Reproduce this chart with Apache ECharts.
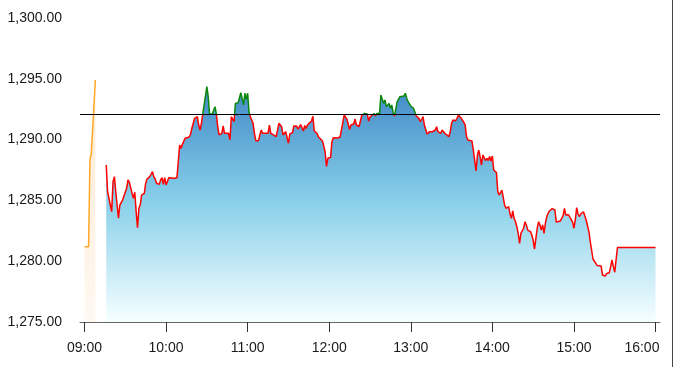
<!DOCTYPE html>
<html>
<head>
<meta charset="utf-8">
<script src="https://cdn.jsdelivr.net/npm/echarts@6/dist/echarts.min.js"></script>
<style>html,body{margin:0;padding:0;background:#fff}#c{width:673px;height:367px}</style>
</head>
<body>
<div id="c"></div>
<script>
// ---- data ----
const preTimes = ["09:00","09:03","09:04","09:05","09:08"];
const preValues = [1281.19,1281.19,1288.32,1288.87,1294.90];

const times = [
"09:16","09:17","09:19","09:20","09:21","09:22","09:23","09:24","09:25","09:26","09:28","09:29","09:31","09:32","09:33","09:35","09:36","09:37","09:38","09:39","09:40","09:41","09:42","09:44","09:45","09:46","09:48","09:49","09:50","09:51","09:52","09:53","09:55","09:56","09:57","09:58","09:59",
"10:00","10:01","10:02","10:03","10:06","10:08","10:09","10:10","10:11","10:12","10:14","10:15","10:17","10:18","10:19","10:20","10:21","10:23","10:24","10:25","10:26","10:27","10:28","10:30","10:31","10:32","10:34","10:35","10:36","10:37","10:38","10:39","10:41","10:42","10:43","10:44","10:46","10:47","10:48","10:49","10:50","10:51","10:53","10:55","10:56","10:57","10:58","10:59",
"11:00","11:01","11:02","11:04","11:05","11:06","11:08","11:09","11:10","11:11","11:13","11:14","11:15","11:16","11:17","11:19","11:20","11:21","11:23","11:24","11:25","11:26","11:28","11:29","11:30","11:31","11:33","11:34","11:35","11:36","11:37","11:39","11:40","11:41","11:42","11:43","11:44","11:45","11:47","11:48","11:49","11:50","11:51","11:52","11:53","11:55","11:56","11:57","11:58","11:59",
"12:01","12:02","12:03","12:04","12:06","12:07","12:08","12:09","12:11","12:12","12:13","12:15","12:16","12:17","12:18","12:19","12:20","12:22","12:23","12:24","12:25","12:26","12:28","12:29","12:30","12:31","12:33","12:34","12:35","12:36","12:37","12:38","12:39","12:40","12:41","12:42","12:44","12:45","12:46","12:47","12:48","12:50","12:51","12:52","12:53","12:55","12:56","12:57","12:58","12:59",
"13:00","13:02","13:03","13:04","13:06","13:07","13:08","13:09","13:10","13:12","13:13","13:14","13:16","13:18","13:19","13:20","13:22","13:23","13:24","13:25","13:26","13:28","13:29","13:30","13:31","13:33","13:34","13:35","13:36","13:37","13:39","13:40","13:41","13:42","13:43","13:45","13:46","13:47","13:48","13:49","13:50","13:51","13:52","13:53","13:54","13:55","13:56","13:57","13:58","13:59",
"14:00","14:01","14:02","14:03","14:04","14:05","14:06","14:07","14:08","14:09","14:10","14:11","14:12","14:13","14:14","14:15","14:16","14:17","14:18","14:19","14:20","14:21","14:22","14:23","14:24","14:25","14:26","14:28","14:29","14:30","14:31","14:32","14:33","14:34","14:35","14:36","14:37","14:38","14:39","14:40","14:41","14:42","14:44","14:45","14:46","14:47","14:48","14:50","14:52","14:53","14:54","14:56","14:57","14:59",
"15:00","15:01","15:02","15:03","15:04","15:05","15:07","15:08","15:09","15:11","15:12","15:13","15:14","15:15","15:17","15:18","15:20","15:21","15:23","15:24","15:25","15:26","15:27","15:28","15:29","15:30","15:32","16:00"
];
const values = [
1287.91,1285.71,1284.62,1284.07,1286.54,1286.95,1285.71,1285.58,1283.53,1284.62,1285.03,1284.89,1285.99,1286.68,1286.49,1285.58,1285.17,1285.67,1284.07,1282.75,1284.35,1284.62,1285.44,1285.58,1286.41,1286.76,1286.95,1287.15,1287.36,1286.95,1286.76,1286.41,1286.32,1286.68,1286.87,1286.32,1286.87,
1286.27,1286.32,1286.87,1286.87,1286.82,1286.87,1286.95,1289.56,1289.28,1289.61,1290.11,1290.24,1290.21,1290.44,1290.93,1290.79,1291.75,1291.88,1291.20,1290.79,1291.34,1292.10,1292.85,1294.35,1293.53,1292.10,1292.10,1292.10,1292.71,1292.10,1291.06,1290.38,1290.52,1291.12,1290.52,1290.38,1290.52,1289.97,1291.88,1292.02,1291.47,1292.98,1293.03,1293.86,1293.94,1292.85,1293.81,1293.31,
1293.81,1292.29,1291.88,1291.34,1290.52,1289.91,1289.91,1290.38,1290.79,1290.52,1290.52,1290.38,1290.52,1291.20,1290.52,1290.38,1290.52,1290.24,1291.34,1291.39,1291.06,1290.38,1290.65,1290.17,1289.70,1290.46,1290.58,1291.12,1291.20,1291.12,1290.87,1291.24,1291.20,1290.71,1291.16,1290.91,1291.20,1291.08,1291.53,1291.92,1290.71,1290.58,1290.52,1290.24,1290.11,1289.88,1289.47,1288.98,1287.80,1288.46,
1288.54,1289.83,1290.15,1290.01,1290.13,1290.05,1290.21,1290.34,1292.02,1292.06,1291.69,1290.83,1291.20,1291.32,1291.28,1291.69,1291.20,1291.08,1291.16,1292.02,1292.10,1292.15,1292.10,1291.53,1291.86,1291.94,1292.15,1291.94,1292.15,1292.15,1292.15,1293.67,1293.75,1292.98,1293.26,1292.71,1292.98,1292.57,1292.85,1292.21,1291.94,1293.12,1293.26,1293.53,1293.40,1293.59,1293.81,1293.40,1293.12,1292.98,
1292.76,1292.57,1292.43,1291.94,1291.75,1291.47,1291.61,1291.88,1291.20,1290.46,1290.52,1290.65,1290.65,1290.79,1291.06,1290.65,1290.52,1290.79,1290.65,1290.52,1290.65,1290.24,1290.65,1291.34,1291.61,1291.55,1291.75,1292.02,1292.10,1291.78,1291.41,1291.20,1290.25,1289.97,1290.05,1289.88,1289.14,1289.00,1287.42,1288.73,1289.14,1288.57,1287.91,1288.73,1288.65,1288.28,1288.46,1288.28,1288.61,1288.24,
1288.65,1287.50,1287.36,1287.29,1285.71,1285.44,1285.30,1285.85,1285.24,1284.62,1284.35,1284.21,1284.48,1283.88,1283.53,1284.13,1283.53,1283.25,1282.84,1282.29,1281.47,1282.29,1282.15,1282.71,1283.25,1282.98,1282.56,1282.43,1282.15,1281.74,1281.00,1281.88,1282.71,1283.25,1282.98,1282.56,1282.98,1282.29,1283.12,1283.66,1283.94,1284.13,1284.33,1284.37,1284.21,1283.22,1283.18,1283.31,1283.72,1284.35,1283.80,1283.82,1283.66,1283.22,
1282.71,1283.39,1284.40,1283.88,1283.66,1283.88,1284.07,1284.05,1283.39,1282.43,1281.60,1280.92,1280.18,1280.10,1279.65,1279.60,1279.60,1278.86,1278.78,1278.99,1279.14,1279.05,1279.55,1280.10,1279.55,1279.09,1281.13,1281.13
];
const refValue = 1292.10;
const xTickLabels = ["09:00","10:00","11:00","12:00","13:00","14:00","15:00","16:00"];
const yMin = 1275, yMax = 1300, yStep = 5;

// ---- helpers ----
function toMin(t){ const p = t.split(':').map(Number); return (p[0]-9)*60 + p[1]; }
const tickMinutes = xTickLabels.map(toMin);
// last label is kept inside the plot (drawn shifted in like the original)
const labelMinutes = tickMinutes.slice(0, -1).concat([410]);
const preData = preTimes.map((t,i)=>[toMin(t), preValues[i]]);
const mainData = times.map((t,i)=>[toMin(t), values[i]]);
const font = "'Liberation Sans', Arial, Helvetica, sans-serif";
const UP = '#0a870a', DOWN = '#ff0000';

const chart = echarts.init(document.getElementById('c'), null, {renderer:'canvas'});
const option = {
  animation: false,
  backgroundColor: '#fff',
  grid: { left: 80, right: 13, top: 18, bottom: 45 },
  xAxis: {
    type: 'value', min: -3.3, max: 423.3,
    axisLine: { show: true, lineStyle: { color: '#666', width: 1 } },
    axisTick: { show: true, customValues: tickMinutes, length: 10, lineStyle: { color: '#333' } },
    axisLabel: { customValues: labelMinutes, fontSize: 14, color: '#1a1a1a', fontFamily: font, margin: 19,
      formatter: v => xTickLabels[labelMinutes.indexOf(v)] || '' },
    splitLine: { show: false }
  },
  yAxis: {
    type: 'value', min: yMin, max: yMax, interval: yStep,
    axisLine: { show: false }, axisTick: { show: false }, splitLine: { show: false },
    axisLabel: { fontSize: 14, color: '#1a1a1a', fontFamily: font, margin: 18,
      formatter: v => v.toLocaleString('en-US', { minimumFractionDigits: 2, maximumFractionDigits: 2 }) }
  },
  series: [
    {
      type: 'line', data: preData, showSymbol: false, z: 2,
      lineStyle: { color: '#ffa726', width: 1.5 },
      itemStyle: { color: '#ffa726' },
      areaStyle: { opacity: 1, color: new echarts.graphic.LinearGradient(0,0,0,1,[
        { offset: 0, color: '#fde9d2' }, { offset: 1, color: '#fff9f2' } ]) }
    },
    {
      type: 'line', data: mainData, showSymbol: false, z: 3,
      lineStyle: { width: 1.5, color: DOWN },
      itemStyle: { color: DOWN },
      areaStyle: { opacity: 1, color: new echarts.graphic.LinearGradient(0,0,0,1,[
        { offset: 0, color: '#4189c6' }, { offset: 0.48, color: '#87cfe9' }, { offset: 1, color: '#f6ffff' } ]) },
      markLine: {
        silent: true, symbol: ['none','none'], label: { show: false },
        lineStyle: { color: '#000', width: 1, type: 'solid' },
        data: [ { yAxis: refValue } ]
      }
    }
  ],
  graphic: [
    { type: 'line', shape: { x1: 672.5, y1: 0, x2: 672.5, y2: 367 }, style: { stroke: '#444', lineWidth: 1 }, silent: true }
  ]
};
chart.setOption(option);

// colour the line green above the reference value, red below (split at the axis pixel of refValue)
const H = chart.getHeight();
const refY = chart.convertToPixel({ yAxisIndex: 0 }, refValue);
const f = Math.max(0, Math.min(1, refY / H));
chart.setOption({
  series: [ {}, {
    lineStyle: { color: new echarts.graphic.LinearGradient(0, 0, 0, H, [
      { offset: 0, color: UP }, { offset: f, color: UP }, { offset: f, color: DOWN }, { offset: 1, color: DOWN } ], true) }
  } ]
});
</script>
</body>
</html>
